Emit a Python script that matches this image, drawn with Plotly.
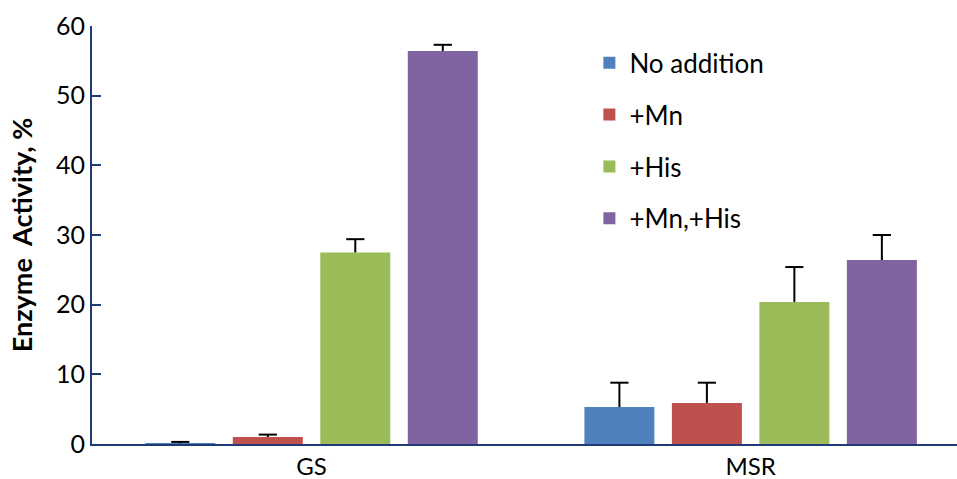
import plotly.graph_objects as go

# Enzyme activity (%) for each substrate condition, with one-sided error
categories = ["GS", "MSR"]
series_names = ["No addition", "+Mn", "+His", "+Mn,+His"]
activity = [
    [0.1, 5.3],    # No addition
    [1.0, 5.9],    # +Mn
    [27.5, 20.4],  # +His
    [56.4, 26.4],  # +Mn,+His
]
errors = [
    [0.2, 3.5],
    [0.35, 2.9],
    [1.9, 5.0],
    [0.9, 3.6],
]
y_ticks = [0, 10, 20, 30, 40, 50, 60]

colors = ["#4F81BD", "#C0504D", "#9BBB59", "#8064A2"]
axis_color = "#1F3B73"
font_family = "Lato, 'Open Sans', sans-serif"
bar_gap = 0.203

fig = go.Figure()
for name, vals, errs, col in zip(series_names, activity, errors, colors):
    # bar with an upward error stem (no cross-bars)
    fig.add_trace(go.Bar(
        x=categories,
        y=vals,
        name=name,
        legendgroup=name,
        offsetgroup=name,
        marker=dict(color=col, line=dict(width=0)),
        error_y=dict(type="data", array=errs, symmetric=False,
                     arrayminus=[0] * len(errs),
                     color="black", thickness=2, width=0),
    ))
    # cap drawn only at the top end of the error stem
    fig.add_trace(go.Scatter(
        x=categories,
        y=[v + e for v, e in zip(vals, errs)],
        mode="markers",
        offsetgroup=name,
        legendgroup=name,
        showlegend=False,
        hoverinfo="skip",
        marker=dict(symbol="line-ew", size=13,
                    line=dict(width=2, color="black")),
    ))

fig.update_layout(
    width=957,
    height=479,
    margin=dict(l=92, r=0, t=26, b=35),
    paper_bgcolor="white",
    plot_bgcolor="white",
    barmode="group",
    bargap=bar_gap,
    bargroupgap=0.2,
    scattermode="group",
    scattergap=bar_gap,
    font=dict(family=font_family, color="black"),
    legend=dict(
        x=0.575, y=0.968, xanchor="left", yanchor="top",
        font=dict(size=26, color="black", family=font_family),
        tracegroupgap=15,
        bgcolor="rgba(0,0,0,0)",
    ),
    xaxis=dict(
        type="category",
        range=[-0.5, 1.47],
        showline=True, linecolor=axis_color, linewidth=2,
        ticks="", showgrid=False,
        tickfont=dict(size=24, color="black"),
    ),
    yaxis=dict(
        range=[0, 60],
        tickvals=y_ticks,
        showline=True, linecolor=axis_color, linewidth=2,
        ticks="inside", ticklen=9, tickwidth=2, tickcolor=axis_color,
        showgrid=False, zeroline=False,
        tickfont=dict(size=25, color="black"),
        title=dict(text="<b>Enzyme  Activity, %</b>",
                   font=dict(size=27, color="black"), standoff=16),
    ),
)

fig.write_html("out.html")
